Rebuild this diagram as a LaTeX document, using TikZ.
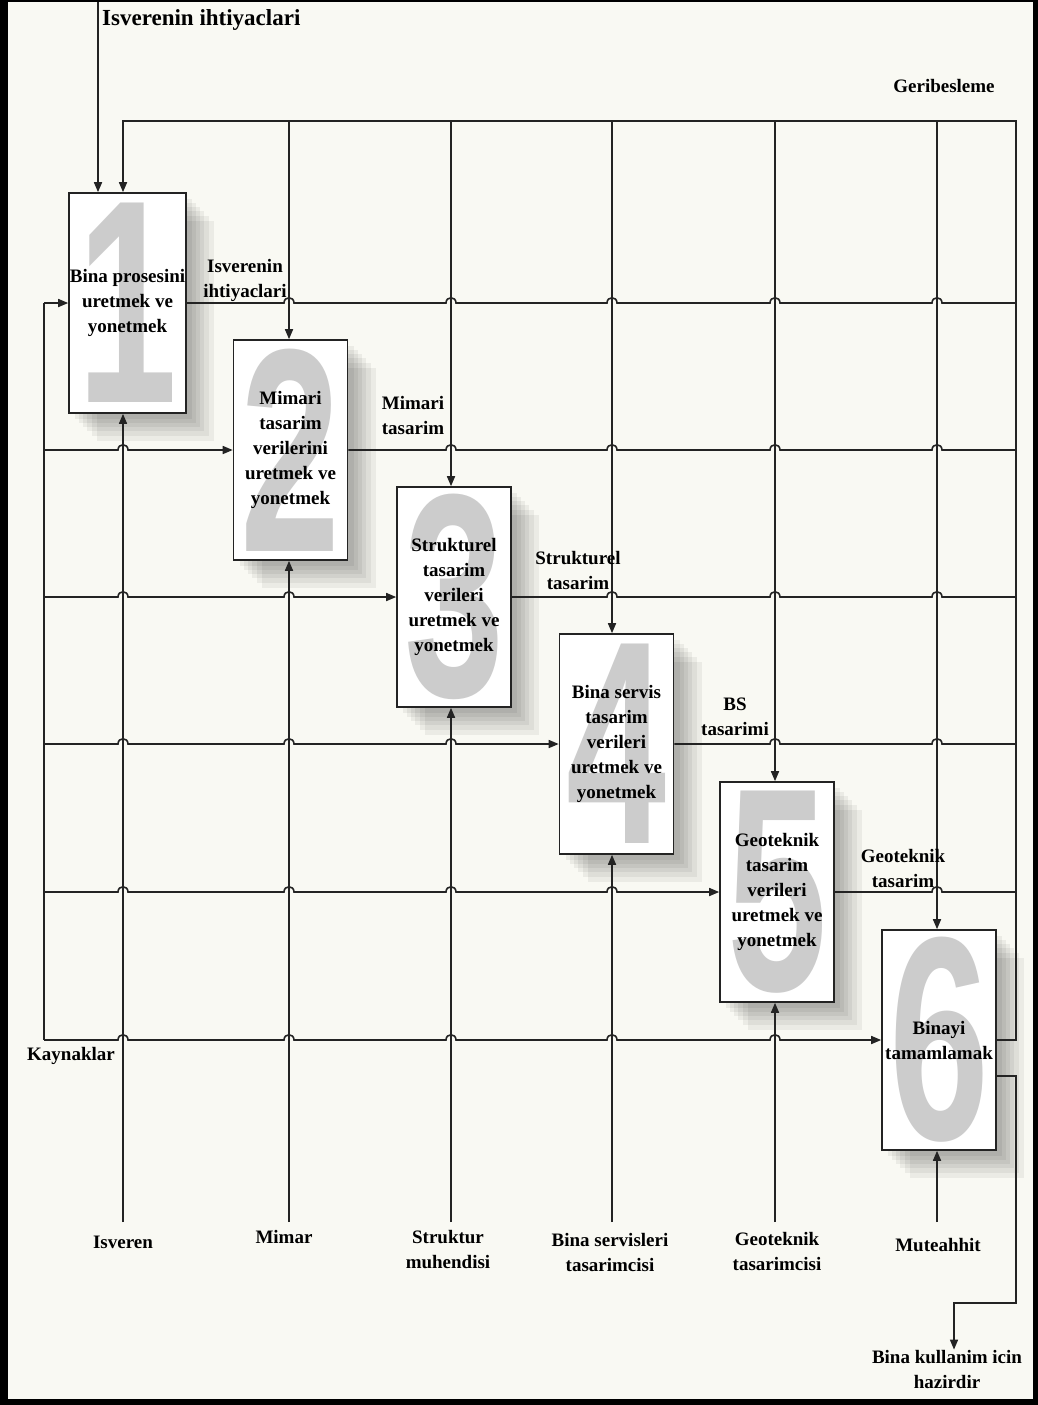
\documentclass[tikz,border=0pt]{standalone}
\usepackage{graphicx}
\usepackage{fontspec}
\setmainfont{Liberation Serif}
\newfontfamily\numfont{Liberation Sans}
\usetikzlibrary{arrows.meta,shadows}

\definecolor{paper}{RGB}{249,249,243}
\definecolor{ink}{RGB}{35,35,35}
\definecolor{numgray}{RGB}{204,204,204}

\newcommand{\bigdigit}[1]{\scalebox{0.62}[1]{#1}}

\tikzset{
  wire/.style={draw=ink, line width=1.6pt},
  arr/.style={wire, -{Triangle[length=10pt,width=8pt]}},
  haze/.style={drop shadow={shadow xshift=#1pt, shadow yshift=-#1pt,
      opacity=0.055, fill=black}},
  stage/.style={draw=ink, line width=1.6pt, fill=white,
    minimum width=114pt, minimum height=220pt, inner sep=0pt,
    text=numgray, font=\numfont\bfseries\fontsize{290}{290}\selectfont,
    haze=28, haze=23, haze=18, haze=14, haze=10, haze=6},
  stagetext/.style={align=center, inner sep=0pt,
    font=\bfseries\fontsize{19}{25}\selectfont},
  lbl/.style={align=center, inner sep=0pt,
    font=\bfseries\fontsize{19}{25}\selectfont},
}

\begin{document}
\begin{tikzpicture}[x=1pt,y=-1pt]
    \useasboundingbox (0,0) rectangle (1038,1405);
    % Frame
    \fill[black] (0,0) rectangle (1038,1405);
    \fill[paper] (8,2) rectangle (1033,1399);

    % Stages
    \node[stage, minimum width=117pt] (box1) at (127.5,303) {\bigdigit{1}};
    \node[stagetext] (txt1) at (box1) {Bina prosesini\\uretmek ve\\yonetmek};
    \node[stage] (box2) at (290.5,450) {\bigdigit{2}};
    \node[stagetext] (txt2) at (box2) {Mimari\\tasarim\\verilerini\\uretmek ve\\yonetmek};
    \node[stage] (box3) at (454,597) {\bigdigit{3}};
    \node[stagetext] (txt3) at (box3) {Strukturel\\tasarim\\verileri\\uretmek ve\\yonetmek};
    \node[stage] (box4) at (616.5,744) {\bigdigit{4}};
    \node[stagetext] (txt4) at (box4) {Bina servis\\tasarim\\verileri\\uretmek ve\\yonetmek};
    \node[stage] (box5) at (777,892) {\bigdigit{5}};
    \node[stagetext] (txt5) at (box5) {Geoteknik\\tasarim\\verileri\\uretmek ve\\yonetmek};
    \node[stage] (box6) at (939,1040) {\bigdigit{6}};
    \node[stagetext] (txt6) at (box6) {Binayi\\tamamlamak};

    % Grid points
    \foreach \k/\x in {1/123,2/289,3/451,4/612,5/775,6/937} {
      \coordinate (top\k) at (\x,121);
      \coordinate (bot\k) at (\x,1222);
    }
    \foreach \k/\y in {1/303,2/450,3/597,4/744,5/892,6/1040} {
      \coordinate (in\k) at (44,\y);
      \coordinate (out\k) at (1016,\y);
    }
    \coordinate (fbR) at (1016,121);
    \coordinate (need) at (98,2);

    % Feedback and controls
    \draw[arr] (box6.east) -- (out6) -- (fbR) -- (top1) -- (top1 |- box1.north);
    \foreach \k in {2,...,6} \draw[arr] (top\k) -- (top\k |- box\k.north);
    \foreach \k in {1,...,6} \draw[arr] (bot\k) -- (bot\k |- box\k.south);

    % Outputs
    \draw[wire] (box1.east) \foreach \h in {289,451,612,775,937}
      {-- (\h-5,303) .. controls +(0,-7) and +(0,-7) .. (\h+5,303)} -- (out1);
    \draw[wire] (box2.east) \foreach \h in {451,612,775,937}
      {-- (\h-5,450) .. controls +(0,-7) and +(0,-7) .. (\h+5,450)} -- (out2);
    \draw[wire] (box3.east) \foreach \h in {612,775,937}
      {-- (\h-5,597) .. controls +(0,-7) and +(0,-7) .. (\h+5,597)} -- (out3);
    \draw[wire] (box4.east) \foreach \h in {775,937}
      {-- (\h-5,744) .. controls +(0,-7) and +(0,-7) .. (\h+5,744)} -- (out4);
    \draw[wire] (box5.east) \foreach \h in {937}
      {-- (\h-5,892) .. controls +(0,-7) and +(0,-7) .. (\h+5,892)} -- (out5);

    % Resources
    \draw[wire] (in1) -- (in6);
    \draw[arr] (in1) -- (box1.west);
    \draw[arr] (in2) \foreach \h in {123}
      {-- (\h-5,450) .. controls +(0,-7) and +(0,-7) .. (\h+5,450)} -- (box2.west);
    \draw[arr] (in3) \foreach \h in {123,289}
      {-- (\h-5,597) .. controls +(0,-7) and +(0,-7) .. (\h+5,597)} -- (box3.west);
    \draw[arr] (in4) \foreach \h in {123,289,451}
      {-- (\h-5,744) .. controls +(0,-7) and +(0,-7) .. (\h+5,744)} -- (box4.west);
    \draw[arr] (in5) \foreach \h in {123,289,451,612}
      {-- (\h-5,892) .. controls +(0,-7) and +(0,-7) .. (\h+5,892)} -- (box5.west);
    \draw[arr] (in6) \foreach \h in {123,289,451,612,775}
      {-- (\h-5,1040) .. controls +(0,-7) and +(0,-7) .. (\h+5,1040)} -- (box6.west);

    % Client needs
    \node[anchor=west, inner sep=0pt, font=\bfseries\fontsize{23}{27}\selectfont]
      (needLbl) at (102,20) {Isverenin ihtiyaclari};
    \draw[arr] (need) -- (need |- box1.north);

    % Ready building
    \node[lbl] (ready) at (947,1369) {Bina kullanim icin\\hazirdir};
    \coordinate (done) at (1016,1076);
    \coordinate (drop) at (954,1303);
    \draw[arr] (box6.east |- done) -- (done) |- (drop) -- (drop |- ready.north);

    % Labels
    \node[lbl] (fbLbl) at (944,86) {Geribesleme};
    \node[lbl] (resLbl) at (71,1056) {Kaynaklar};
    \node[lbl] (o1Lbl) at (245,280) {Isverenin\\ihtiyaclari};
    \node[lbl] (o2Lbl) at (413,415) {Mimari\\tasarim};
    \node[lbl] (o3Lbl) at (578,570) {Strukturel\\tasarim};
    \node[lbl] (o4Lbl) at (735,717) {BS\\tasarimi};
    \node[lbl] (o5Lbl) at (903,868) {Geoteknik\\tasarim};
    \node[lbl] (r1Lbl) at (123,1242) {Isveren};
    \node[lbl] (r2Lbl) at (284,1237) {Mimar};
    \node[lbl] (r3Lbl) at (448,1250) {Struktur\\muhendisi};
    \node[lbl] (r4Lbl) at (610,1252) {Bina servisleri\\tasarimcisi};
    \node[lbl] (r5Lbl) at (777,1251) {Geoteknik\\tasarimcisi};
    \node[lbl] (r6Lbl) at (938,1245) {Muteahhit};
  \end{tikzpicture}
\end{document}
